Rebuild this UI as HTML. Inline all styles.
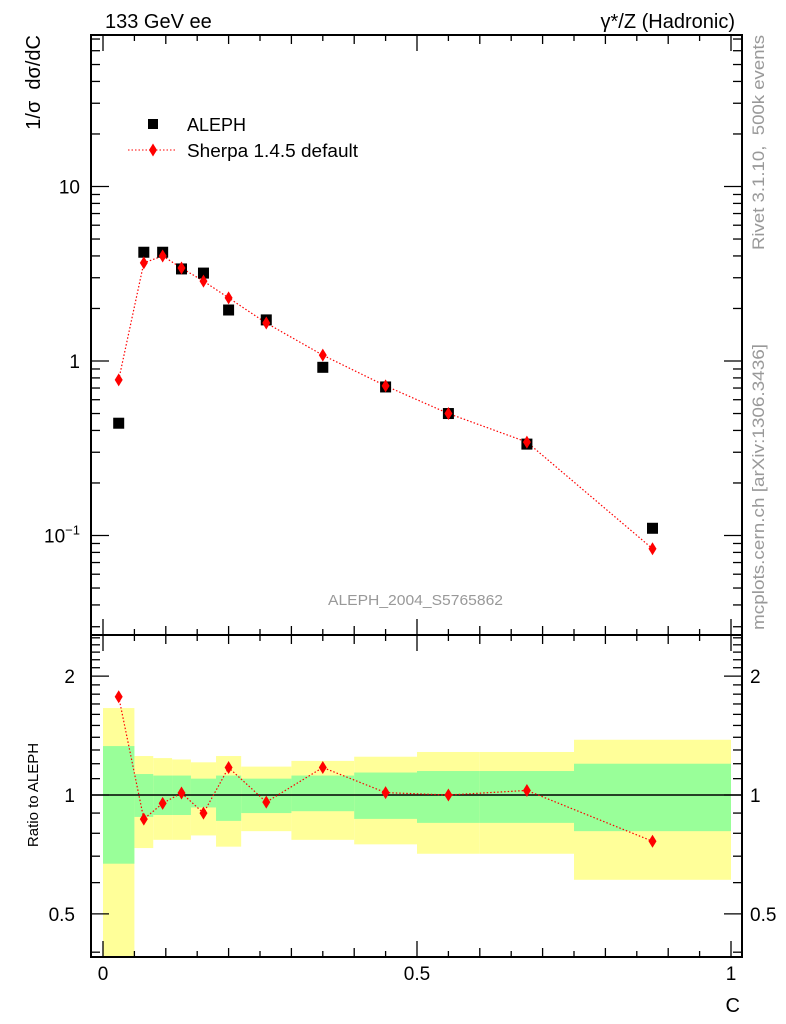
<!DOCTYPE html>
<html><head><meta charset="utf-8">
<style>
html,body{margin:0;padding:0;background:#fff;}
svg{display:block;font-family:"Liberation Sans",sans-serif;}
</style></head>
<body>
<svg id="c" width="786" height="1024" viewBox="0 0 786 1024" xmlns="http://www.w3.org/2000/svg">
<text x="105" y="28" font-size="20">133 GeV ee</text>
<text x="735" y="28" font-size="20" text-anchor="end">γ*/Z (Hadronic)</text>
<text transform="translate(40,35) rotate(-90)" font-size="20" text-anchor="end" xml:space="preserve">1/σ  dσ/dC</text>
<text transform="translate(38,795) rotate(-90)" font-size="15" text-anchor="middle">Ratio to ALEPH</text>
<text x="740" y="1012" font-size="20" text-anchor="end">C</text>
<text transform="translate(764,250) rotate(-90)" font-size="17" fill="#999" textLength="215" lengthAdjust="spacingAndGlyphs" xml:space="preserve">Rivet 3.1.10,  500k events</text>
<text transform="translate(764,630) rotate(-90)" font-size="17" fill="#999" textLength="286" lengthAdjust="spacingAndGlyphs">mcplots.cern.ch [arXiv:1306.3436]</text>
<text x="328" y="605" font-size="15" fill="#999" textLength="175" lengthAdjust="spacingAndGlyphs">ALEPH_2004_S5765862</text>
<g>
<rect x="148" y="119" width="10" height="10" fill="#000"/>
<text x="187" y="131" font-size="18">ALEPH</text>
<line x1="128" y1="150" x2="177" y2="150" stroke="red" stroke-dasharray="1.5,2"/>
<polygon points="153,143.5 157,150 153,156.5 149,150" fill="red"/>
<text x="187" y="157" font-size="18" textLength="171" lengthAdjust="spacingAndGlyphs">Sherpa 1.4.5 default</text>
</g>
</svg>
<script>
const xc=[0.025,0.065,0.095,0.125,0.16,0.2,0.26,0.35,0.45,0.55,0.675,0.875];
const edges=[0,0.05,0.08,0.11,0.14,0.18,0.22,0.30,0.40,0.50,0.60,0.75,1.0];
const aleph=[0.44,4.2,4.2,3.37,3.19,1.96,1.72,0.92,0.71,0.50,0.334,0.110];
const sherpa=[0.78,3.65,4.0,3.41,2.87,2.30,1.65,1.08,0.72,0.50,0.343,0.084];
const yelHi=[1.66,1.255,1.24,1.23,1.21,1.255,1.18,1.22,1.25,1.285,1.285,1.38];
const yelLo=[0.30,0.734,0.77,0.77,0.79,0.74,0.81,0.77,0.75,0.71,0.71,0.61];
const grnHi=[1.33,1.13,1.12,1.12,1.10,1.12,1.10,1.12,1.14,1.15,1.15,1.20];
const grnLo=[0.67,0.88,0.89,0.89,0.93,0.86,0.90,0.91,0.87,0.85,0.85,0.81];
const ratioTicks=[0.5,1,2];
const mainTicks=[0.1,1,10];
const mainTickLabels=["10","1","10"];
const xTicks=[0,0.5,1];
const xTickLabels=["0","0.5","1"];

const svg=document.getElementById('c');
const NS='http://www.w3.org/2000/svg';
const L=91,R=742,T=35,M=635,B=957;
const X=v=>103+628*v;
const Y=v=>361-174.5*Math.log10(v);
const YR=v=>795-395*Math.log10(v);
function mk(tag,attrs,parent){const e=document.createElementNS(NS,tag);for(const k in attrs)e.setAttribute(k,attrs[k]);(parent||svg).appendChild(e);return e;}

const bands=mk('g',{});


for(let i=0;i<xc.length;i++){
  const x0=X(edges[i]),x1=X(edges[i+1]);
  const yt=Math.max(M,YR(yelHi[i])),yb=Math.min(B,YR(yelLo[i]));
  const r1=mk('rect',{x:x0,y:yt,width:x1-x0,height:yb-yt,fill:'#ffff99'},bands);
  
  
}
for(let i=0;i<xc.length;i++){
  const x0=X(edges[i]),x1=X(edges[i+1]);
  const yt=YR(grnHi[i]),yb=YR(grnLo[i]);
  const r2=mk('rect',{x:x0,y:yt,width:x1-x0,height:yb-yt,fill:'#99ff99'},bands);
  
  
}
const one=mk('line',{x1:L,x2:R,y1:YR(1),y2:YR(1),stroke:'#000','stroke-width':1.5});



const f1=mk('rect',{x:L,y:T,width:R-L,height:M-T,fill:'none',stroke:'#000','stroke-width':2});


const f2=mk('rect',{x:L,y:M,width:R-L,height:B-M,fill:'none',stroke:'#000','stroke-width':2});



const ax=mk('g',{stroke:'#000','stroke-width':1.3});


for(let k=0;k<=20;k++){
  const v=k*0.05,x=X(v);
  const len=(k%10==0)?16:(k%2==0?9:6);
  [[T,1],[M,-1],[M,1],[B,-1]].forEach(([y,d])=>mk('line',{x1:x,x2:x,y1:y,y2:y+d*len},ax));
}
xTicks.forEach((v,i)=>{
  const t=mk('text',{x:X(v),y:980,'font-size':19,'text-anchor':'middle'});
  t.textContent=xTickLabels[i];
  
  
});

const ay=mk('g',{stroke:'#000','stroke-width':1.3});


for(let e=-2;e<=1;e++)for(let m=1;m<=9;m++){
  const v=m*Math.pow(10,e),y=Y(v);
  if(y<T||y>M)continue;
  const len=m==1?18:9;
  mk('line',{x1:L,x2:L+len,y1:y,y2:y},ay);mk('line',{x1:R,x2:R-len,y1:y,y2:y},ay);
}
mainTicks.forEach((v,i)=>{
  const t=mk('text',{x:80,y:Y(v)+7,'font-size':19,'text-anchor':'end'});
  t.textContent=mainTickLabels[i];
  if(v<1){const s=mk('tspan',{dy:-8,'font-size':13},t);s.textContent='−1';}
  
  
});
const ar=mk('g',{stroke:'#000','stroke-width':1.3});


[0.4,0.5,0.6,0.7,0.8,0.9,1,1.1,1.2,1.3,1.4,1.5,1.6,1.7,1.8,1.9,2,2.1,2.2,2.3,2.4,2.5].forEach(v=>{
  const y=YR(v);if(y<M||y>B)return;
  const len=(ratioTicks.indexOf(v)>=0)?18:9;
  mk('line',{x1:L,x2:L+len,y1:y,y2:y},ar);mk('line',{x1:R,x2:R-len,y1:y,y2:y},ar);
});
ratioTicks.forEach(v=>{
  const t=mk('text',{x:75,y:YR(v)+7,'font-size':19,'text-anchor':'end'});
  t.textContent=String(v);
  
  
  const t2=mk('text',{x:750,y:YR(v)+7,'font-size':19});
  t2.textContent=String(v);
  
  
});

const sp=mk('polyline',{points:xc.map((x,i)=>X(x)+','+Y(sherpa[i])).join(' '),fill:'none',stroke:'red','stroke-width':1.2,'stroke-dasharray':'1.5,2'});


xc.forEach((x,i)=>{
  const r=mk('rect',{x:X(x)-5.5,y:Y(aleph[i])-5.5,width:11,height:11,fill:'#000'});
  
  
  const cx=X(x),cy=Y(sherpa[i]);
  const d=mk('polygon',{points:`${cx},${cy-6.5} ${cx+4},${cy} ${cx},${cy+6.5} ${cx-4},${cy}`,fill:'red'});
  
  
});
const ratio=xc.map((x,i)=>sherpa[i]/aleph[i]);
const rl=mk('polyline',{points:xc.map((x,i)=>X(x)+','+YR(ratio[i])).join(' '),fill:'none',stroke:'red','stroke-width':1.2,'stroke-dasharray':'1.5,2'});


xc.forEach((x,i)=>{
  const cx=X(x),cy=YR(ratio[i]);
  const d=mk('polygon',{points:`${cx},${cy-6.5} ${cx+4},${cy} ${cx},${cy+6.5} ${cx-4},${cy}`,fill:'red'});
  
  
});
</script>
</body></html>
